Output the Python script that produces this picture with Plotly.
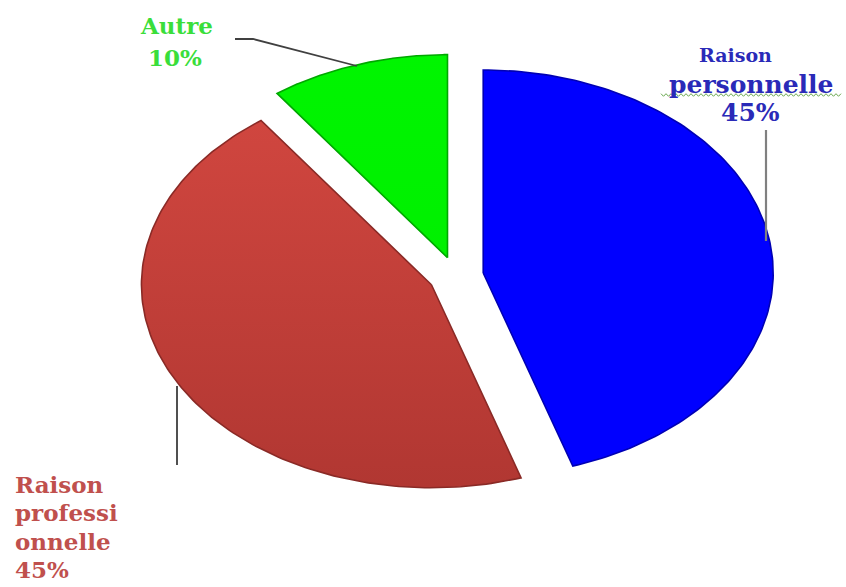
import numpy as np
import plotly.graph_objects as go

# Répartition des motifs
categories = ["Raison personnelle", "Raison professionnelle", "Autre"]
shares = [45, 45, 10]
label_lines = [["Raison", "personnelle"], ["Raison", "professi", "onnelle"], ["Autre"]]

# Couleurs des secteurs
fill_top = ["#0000ff", "#d0463f", "#00f500"]
fill_bottom = ["#0000ff", "#b13732", "#00f000"]
edge_colors = ["#0000b4", "#8a2a26", "#00a800"]
text_colors = ["#2a2ab8", "#c0504d", "#3ade3a"]

W, H = 846, 587
CX, CY = 456, 276          # centre de l'ellipse (pixels)
RX, RY = 290, 203          # rayons horizontal / vertical
EXPLODE = 0.095            # éclatement des secteurs

fig = go.Figure()

total = float(sum(shares))
start = 0.0
for i, v in enumerate(shares):
    a0 = start
    a1 = start + 360.0 * v / total
    start = a1
    mid = np.radians((a0 + a1) / 2)
    ax = CX + EXPLODE * RX * np.sin(mid)
    ay = CY - EXPLODE * RY * np.cos(mid)
    t = np.radians(np.linspace(a0, a1, 160))
    xs = np.concatenate([[ax], ax + RX * np.sin(t), [ax]])
    ys = np.concatenate([[ay], ay - RY * np.cos(t), [ay]])
    fig.add_trace(go.Scatter(
        x=xs, y=ys, mode="lines", fill="toself",
        line=dict(color=edge_colors[i], width=1.6),
        fillgradient=dict(
            type="vertical",
            colorscale=[[0, fill_top[i]], [1, fill_bottom[i]]],
            start=float(ys.min()), stop=float(ys.max()),
        ),
        hoverinfo="skip", showlegend=False, name=categories[i],
    ))

serif = "DejaVu Serif"

def label(x, y, text, size, color, xanchor="center"):
    fig.add_annotation(
        x=x, y=y, xref="x", yref="y", text=f"<b>{text}</b>", showarrow=False,
        xanchor=xanchor, yanchor="middle",
        font=dict(family=serif, size=size, color=color),
    )

# Raison personnelle
label(735, 55, label_lines[0][0], 19, text_colors[0])
label(751, 84, label_lines[0][1], 25, text_colors[0])
label(750, 112, f"{shares[0]}%", 25, text_colors[0])

# Raison professionnelle
for k, txt in enumerate(label_lines[1] + [f"{shares[1]}%"]):
    label(13, 484 + 28.5 * k, txt, 23, text_colors[1], xanchor="left")

# Autre
label(176, 25, label_lines[2][0], 23, text_colors[2])
label(175, 57, f"{shares[2]}%", 23, text_colors[2])

# Lignes de rappel
fig.add_shape(type="line", x0=766, y0=130, x1=766, y1=241,
              line=dict(color="#808080", width=2.2))
fig.add_shape(type="line", x0=177, y0=386, x1=177, y1=465,
              line=dict(color="#505050", width=2))
fig.add_shape(type="path", path="M 235 39 L 253 39 L 357 66",
              line=dict(color="#404040", width=1.8))

# Soulignement ondulé sous « personnelle »
xs_w = np.arange(661, 842, 2.5)
pts = " ".join(
    ("M" if j == 0 else "L") + f" {x:.1f} {95 + (1.3 if j % 2 else -1.3):.1f}"
    for j, x in enumerate(xs_w)
)
fig.add_shape(type="path", path=pts, line=dict(color="#6aa84f", width=1))

fig.update_layout(
    width=W, height=H,
    margin=dict(l=0, r=0, t=0, b=0),
    paper_bgcolor="white", plot_bgcolor="white",
    xaxis=dict(range=[0, W], visible=False, fixedrange=True),
    yaxis=dict(range=[H, 0], visible=False, fixedrange=True),
    showlegend=False,
)

fig.write_html("out.html")
